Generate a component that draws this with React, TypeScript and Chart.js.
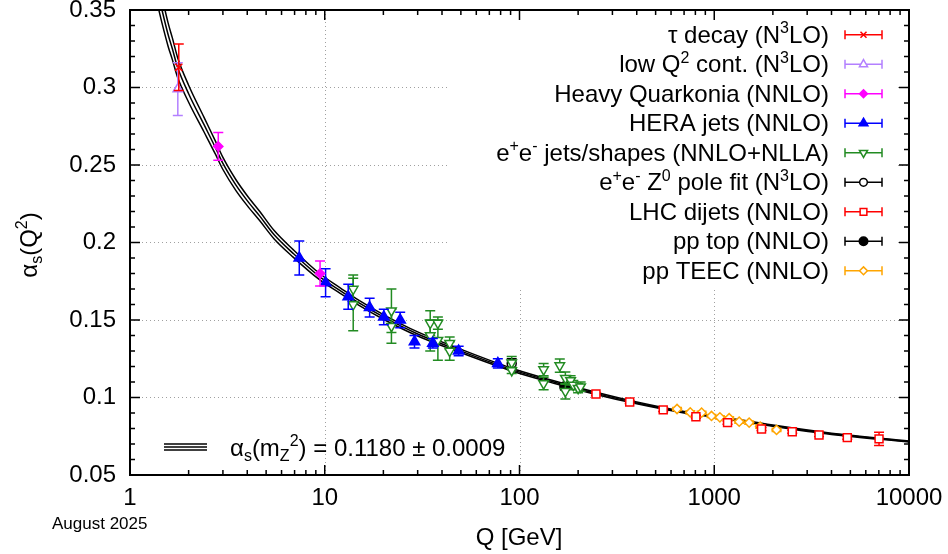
import React, { useEffect, useRef } from 'react';
import { Chart, registerables } from 'chart.js';

Chart.register(...registerables);

const FONT = '"Liberation Sans", Arial, Helvetica, sans-serif';

// ---- running coupling band ----
const curveQ = [1.40, 1.46, 1.57, 1.65, 1.755, 2.0, 2.4, 2.75, 3.0, 3.5, 4.0, 4.64, 5.5, 6.88, 9.4, 12, 15, 20, 30, 50, 91.2, 150, 250, 400, 700, 1000, 2000, 4000, 10000];
const curveAlpha = [0.360, 0.350, 0.334, 0.325, 0.313, 0.296, 0.276, 0.261, 0.251, 0.237, 0.227, 0.217, 0.205, 0.193, 0.178, 0.169, 0.161, 0.152, 0.141, 0.130, 0.118, 0.110, 0.1025, 0.0965, 0.0905, 0.0878, 0.0818, 0.0766, 0.0716];
const curveHalfWidth = [0.0090, 0.0085, 0.0075, 0.0070, 0.0064, 0.0055, 0.0047, 0.0042, 0.0039, 0.0035, 0.0032, 0.0030, 0.0027, 0.0024, 0.0020, 0.0018, 0.0016, 0.0015, 0.0013, 0.0011, 0.0009, 0.0008, 0.0007, 0.0006, 0.0005, 0.0005, 0.0004, 0.0004, 0.0003];

// ---- measurements ----
const tauQ = [1.78];
const tauAlpha = [0.313];
const tauErr = [0.015];

const lowQ2Q = [1.76];
const lowQ2Alpha = [0.299];
const lowQ2Err = [0.017];

const quarkQ = [2.84, 9.46];
const quarkAlpha = [0.262, 0.180];
const quarkErr = [0.009, 0.008];

const heraQ = [7.4, 10.1, 13.2, 17.0, 20.1, 24.4, 28.9, 35.9, 48.7, 77.4];
const heraAlpha = [0.190, 0.174, 0.165, 0.158, 0.152, 0.150, 0.136, 0.135, 0.130, 0.122];
const heraErr = [0.011, 0.009, 0.008, 0.006, 0.005, 0.005, 0.004, 0.003, 0.003, 0.003];

const eeQ = [14.0, 14.0, 22.0, 22.0, 34.8, 34.8, 38.1, 38.1, 43.8, 43.8, 91.2, 91.2, 133, 133, 161, 172, 172, 183, 189, 200, 206];
const eeAlpha = [0.170, 0.160, 0.156, 0.146, 0.148, 0.140, 0.148, 0.137, 0.135, 0.130, 0.1225, 0.1175, 0.118, 0.109, 0.1206, 0.1125, 0.104, 0.111, 0.108, 0.106, 0.107];
const eeErr = [0.009, 0.017, 0.014, 0.011, 0.008, 0.010, 0.004, 0.013, 0.004, 0.006, 0.004, 0.002, 0.004, 0.004, 0.0043, 0.004, 0.005, 0.003, 0.003, 0.003, 0.003];

const zpoleQ = [91.19];
const zpoleAlpha = [0.122];
const zpoleErr = [0.003];

const lhcQ = [247, 368, 547, 805, 1170, 1749, 2515, 3451, 4821, 7017];
const lhcAlpha = [0.1023, 0.0971, 0.0920, 0.0876, 0.0838, 0.0797, 0.0779, 0.0758, 0.0741, 0.0733];
const lhcErr = [0.001, 0.001, 0.001, 0.001, 0.001, 0.001, 0.001, 0.001, 0.001, 0.0043];

const topQ = [171];
const topAlpha = [0.107];
const topErr = [0.002];

const teecQ = [644, 753, 861, 968, 1069, 1193, 1343, 1511, 1721, 2089];
const teecAlpha = [0.0926, 0.0904, 0.0902, 0.0881, 0.0872, 0.0866, 0.0844, 0.0838, 0.0812, 0.0791];
const teecErr = [0.001, 0.001, 0.001, 0.001, 0.001, 0.001, 0.001, 0.001, 0.001, 0.001];

// ---- axes ----
const xTickValues = [1, 10, 100, 1000, 10000];
const xTickLabels = ['1', '10', '100', '1000', '10000'];
const yTickValues = [0.05, 0.1, 0.15, 0.2, 0.25, 0.3, 0.35];
const yTickLabels = ['0.05', '0.1', '0.15', '0.2', '0.25', '0.3', '0.35'];
const xGridValues = [10, 100, 1000];
const yGridValues = [0.1, 0.15, 0.2, 0.25, 0.3];

type Seg = [string, number];

const legendTexts: Seg[][] = [
  [['τ decay (N', 0], ['3', 1], ['LO)', 0]],
  [['low Q', 0], ['2', 1], [' cont. (N', 0], ['3', 1], ['LO)', 0]],
  [['Heavy Quarkonia (NNLO)', 0]],
  [['HERA jets (NNLO)', 0]],
  [['e', 0], ['+', 1], ['e', 0], ['-', 1], [' jets/shapes (NNLO+NLLA)', 0]],
  [['e', 0], ['+', 1], ['e', 0], ['-', 1], [' Z', 0], ['0', 1], [' pole fit (N', 0], ['3', 1], ['LO)', 0]],
  [['LHC dijets (NNLO)', 0]],
  [['pp top (NNLO)', 0]],
  [['pp TEEC (NNLO)', 0]],
];
const bandText: Seg[] = [['α', 0], ['s', -1], ['(m', 0], ['Z', -1], ['2', 1], [') = 0.1180 ± 0.0009', 0]];
const yTitle: Seg[] = [['α', 0], ['s', -1], ['(Q', 0], ['2', 1], [')', 0]];
const xTitle = 'Q [GeV]';
const dateText = 'August 2025';

interface SeriesDef { q: number[]; a: number[]; e: number[]; color: string; style: string; r: number; rot: number; filled: boolean; }
const series: SeriesDef[] = [
  { q: tauQ, a: tauAlpha, e: tauErr, color: '#ff0000', style: 'crossRot', r: 5, rot: 0, filled: false },
  { q: lowQ2Q, a: lowQ2Alpha, e: lowQ2Err, color: '#b380ff', style: 'triangle', r: 5.5, rot: 0, filled: false },
  { q: quarkQ, a: quarkAlpha, e: quarkErr, color: '#ff00ff', style: 'rectRot', r: 4.6, rot: 0, filled: true },
  { q: heraQ, a: heraAlpha, e: heraErr, color: '#0000ff', style: 'triangle', r: 6, rot: 0, filled: true },
  { q: eeQ, a: eeAlpha, e: eeErr, color: '#228b22', style: 'triangle', r: 5.5, rot: 180, filled: false },
  { q: zpoleQ, a: zpoleAlpha, e: zpoleErr, color: '#000000', style: 'circle', r: 4.5, rot: 0, filled: false },
  { q: lhcQ, a: lhcAlpha, e: lhcErr, color: '#ff0000', style: 'rect', r: 5.6, rot: 0, filled: false },
  { q: topQ, a: topAlpha, e: topErr, color: '#000000', style: 'circle', r: 5, rot: 0, filled: true },
  { q: teecQ, a: teecAlpha, e: teecErr, color: '#ffa500', style: 'rectRot', r: 4.6, rot: 0, filled: false },
];

function setFont(ctx: CanvasRenderingContext2D, size: number) {
  ctx.font = `${size}px ${FONT}`;
}

function richWidth(ctx: CanvasRenderingContext2D, segs: Seg[], size: number) {
  let w = 0;
  for (const [t, m] of segs) {
    setFont(ctx, m ? Math.round(size * 0.68) : size);
    w += ctx.measureText(t).width;
  }
  return w;
}

function drawRich(ctx: CanvasRenderingContext2D, segs: Seg[], x: number, baseline: number, align: string, size: number) {
  const w = richWidth(ctx, segs, size);
  let cx = align === 'right' ? x - w : align === 'center' ? x - w / 2 : x;
  ctx.textAlign = 'left';
  ctx.textBaseline = 'alphabetic';
  for (const [t, m] of segs) {
    setFont(ctx, m ? Math.round(size * 0.68) : size);
    const dy = m === 1 ? -size * 0.4 : m === -1 ? size * 0.22 : 0;
    ctx.fillText(t, cx, baseline + dy);
    cx += ctx.measureText(t).width;
  }
}

function drawMarker(ctx: CanvasRenderingContext2D, s: SeriesDef, x: number, y: number) {
  const r = s.r;
  ctx.beginPath();
  if (s.style === 'crossRot') {
    const o = r * Math.SQRT1_2;
    ctx.moveTo(x - o, y - o); ctx.lineTo(x + o, y + o);
    ctx.moveTo(x + o, y - o); ctx.lineTo(x - o, y + o);
    ctx.stroke();
    return;
  }
  if (s.style === 'triangle') {
    let a = (s.rot * Math.PI) / 180;
    ctx.moveTo(x + Math.sin(a) * r, y - Math.cos(a) * r);
    a += (2 * Math.PI) / 3;
    ctx.lineTo(x + Math.sin(a) * r, y - Math.cos(a) * r);
    a += (2 * Math.PI) / 3;
    ctx.lineTo(x + Math.sin(a) * r, y - Math.cos(a) * r);
    ctx.closePath();
  } else if (s.style === 'rectRot') {
    ctx.moveTo(x, y - r); ctx.lineTo(x + r, y); ctx.lineTo(x, y + r); ctx.lineTo(x - r, y); ctx.closePath();
  } else if (s.style === 'rect') {
    const h = r * Math.SQRT1_2;
    ctx.rect(x - h, y - h, 2 * h, 2 * h);
  } else {
    ctx.arc(x, y, r, 0, Math.PI * 2);
  }
  ctx.fillStyle = s.filled ? s.color : '#ffffff';
  ctx.fill();
  ctx.stroke();
}

const LEGEND_BOX = { left: 448, right: 897, top: 11, bottom: 287 };
const LEGEND_TEXT_RIGHT = 829;
const LEGEND_ROW0 = 34.8;
const LEGEND_STEP = 29.5;
const SAMPLE_L = 845;
const SAMPLE_R = 882;

const decor = {
  id: 'decor',
  beforeDatasetsDraw(chart: any) {
    const { ctx, chartArea: ca, scales } = chart;
    const xs = scales.x, ys = scales.y;
    ctx.save();
    ctx.strokeStyle = '#a0a0a0';
    ctx.lineWidth = 1;
    ctx.setLineDash([1, 3]);
    for (const v of xGridValues) {
      const px = Math.round(xs.getPixelForValue(v)) + 0.5;
      ctx.beginPath(); ctx.moveTo(px, ca.top); ctx.lineTo(px, ca.bottom); ctx.stroke();
    }
    for (const v of yGridValues) {
      const py = Math.round(ys.getPixelForValue(v)) + 0.5;
      ctx.beginPath(); ctx.moveTo(ca.left, py); ctx.lineTo(ca.right, py); ctx.stroke();
    }
    ctx.setLineDash([]);
    ctx.fillStyle = '#ffffff';
    ctx.fillRect(LEGEND_BOX.left, LEGEND_BOX.top, LEGEND_BOX.right - LEGEND_BOX.left, LEGEND_BOX.bottom - LEGEND_BOX.top);
    ctx.restore();
  },
  beforeDatasetDraw(chart: any, args: any) {
    const ds = chart.data.datasets[args.index];
    if (!ds.errs) return;
    const { ctx, chartArea: ca, scales } = chart;
    const ys = scales.y;
    ctx.save();
    ctx.beginPath();
    ctx.rect(ca.left, ca.top, ca.right - ca.left, ca.bottom - ca.top);
    ctx.clip();
    ctx.strokeStyle = ds.borderColor;
    ctx.lineWidth = 1.5;
    const cap = 5;
    args.meta.data.forEach((pt: any, i: number) => {
      const v = ds.data[i].y;
      const e = ds.errs[i];
      const x = pt.x;
      const y1 = ys.getPixelForValue(v + e);
      const y2 = ys.getPixelForValue(v - e);
      ctx.beginPath();
      ctx.moveTo(x, y1); ctx.lineTo(x, y2);
      ctx.moveTo(x - cap, y1); ctx.lineTo(x + cap, y1);
      ctx.moveTo(x - cap, y2); ctx.lineTo(x + cap, y2);
      ctx.stroke();
    });
    ctx.restore();
  },
  afterDatasetsDraw(chart: any) {
    const { ctx, chartArea: ca, scales } = chart;
    const xs = scales.x, ys = scales.y;
    ctx.save();
    ctx.strokeStyle = '#000';
    ctx.lineWidth = 1.5;
    // x ticks (log minor)
    for (let d = 0; d < 4; d++) {
      for (let m = 1; m <= 9; m++) {
        const v = m * Math.pow(10, d);
        const px = xs.getPixelForValue(v);
        const len = m === 1 ? 10 : 5;
        ctx.beginPath();
        ctx.moveTo(px, ca.bottom); ctx.lineTo(px, ca.bottom - len);
        ctx.moveTo(px, ca.top); ctx.lineTo(px, ca.top + len);
        ctx.stroke();
      }
    }
    // y ticks every 0.01
    for (let k = 5; k <= 35; k++) {
      const v = k / 100;
      const py = ys.getPixelForValue(v);
      const len = k % 5 === 0 ? 10 : 5;
      ctx.beginPath();
      ctx.moveTo(ca.left, py); ctx.lineTo(ca.left + len, py);
      ctx.moveTo(ca.right, py); ctx.lineTo(ca.right - len, py);
      ctx.stroke();
    }
    // frame
    ctx.lineWidth = 2;
    ctx.strokeRect(ca.left, ca.top, ca.right - ca.left, ca.bottom - ca.top);

    // legend
    ctx.fillStyle = '#000';
    series.forEach((s, i) => {
      const yc = LEGEND_ROW0 + LEGEND_STEP * i;
      ctx.fillStyle = '#000';
      drawRich(ctx, legendTexts[i], LEGEND_TEXT_RIGHT, yc + 8, 'right', 24);
      ctx.strokeStyle = s.color;
      ctx.lineWidth = 1.5;
      ctx.beginPath();
      ctx.moveTo(SAMPLE_L, yc); ctx.lineTo(SAMPLE_R, yc);
      ctx.moveTo(SAMPLE_L, yc - 4.5); ctx.lineTo(SAMPLE_L, yc + 4.5);
      ctx.moveTo(SAMPLE_R, yc - 4.5); ctx.lineTo(SAMPLE_R, yc + 4.5);
      ctx.stroke();
      drawMarker(ctx, { ...s, r: s.r * 0.85 }, (SAMPLE_L + SAMPLE_R) / 2, yc);
    });

    // band key
    ctx.strokeStyle = '#000';
    ctx.lineWidth = 1.5;
    const by = 447;
    for (const off of [-3, 0, 3]) {
      ctx.beginPath(); ctx.moveTo(164, by + off); ctx.lineTo(207, by + off); ctx.stroke();
    }
    ctx.fillStyle = '#000';
    drawRich(ctx, bandText, 230, by + 8.5, 'left', 24);

    // axis titles
    drawRich(ctx, [[xTitle, 0]], 519, 545, 'center', 24);
    ctx.save();
    ctx.translate(28, 245);
    ctx.rotate(-Math.PI / 2);
    drawRich(ctx, yTitle, 0, 8.5, 'center', 24);
    ctx.restore();
    setFont(ctx, 17);
    ctx.textAlign = 'left';
    ctx.textBaseline = 'alphabetic';
    ctx.fillText(dateText, 52, 529);
    ctx.restore();
  },
};

function buildConfig(): any {
  const curveDatasets = [-1, 0, 1].map((sgn) => ({
    type: 'line',
    data: curveQ.map((q, i) => ({ x: q, y: curveAlpha[i] + sgn * curveHalfWidth[i] })),
    borderColor: '#000000',
    borderWidth: 1.5,
    pointRadius: 0,
    fill: false,
    cubicInterpolationMode: 'monotone',
    order: 10,
  }));
  const pointDatasets = series.map((s) => ({
    type: 'scatter',
    data: s.q.map((q, i) => ({ x: q, y: s.a[i] })),
    errs: s.e,
    borderColor: s.color,
    backgroundColor: s.filled ? s.color : '#ffffff',
    pointStyle: s.style,
    pointRadius: s.r,
    pointRotation: s.rot,
    pointBorderWidth: 1.5,
    showLine: false,
    order: 1,
  }));
  return {
    type: 'scatter',
    data: { datasets: [...curveDatasets, ...pointDatasets] },
    options: {
      animation: false,
      responsive: false,
      events: [],
      layout: { padding: { left: 0, right: 39, top: 10, bottom: 0 } },
      plugins: { legend: { display: false }, tooltip: { enabled: false } },
      scales: {
        x: {
          type: 'logarithmic',
          min: 1,
          max: 10000,
          afterBuildTicks: (s: any) => { s.ticks = xTickValues.map((v) => ({ value: v })); },
          afterFit: (s: any) => { s.height = 79; s.paddingLeft = 0; s.paddingRight = 0; },
          ticks: {
            callback: (_v: any, i: number) => xTickLabels[i],
            font: { family: FONT, size: 24 },
            color: '#000',
            padding: 9,
            maxRotation: 0,
            autoSkip: false,
          },
          grid: { display: false, drawTicks: false },
          border: { display: false },
        },
        y: {
          type: 'linear',
          min: 0.05,
          max: 0.35,
          afterBuildTicks: (s: any) => { s.ticks = yTickValues.map((v) => ({ value: v })); },
          afterFit: (s: any) => { s.width = 130; s.paddingTop = 0; s.paddingBottom = 0; },
          ticks: {
            callback: (_v: any, i: number) => yTickLabels[i],
            font: { family: FONT, size: 24 },
            color: '#000',
            padding: 14,
            autoSkip: false,
          },
          grid: { display: false, drawTicks: false },
          border: { display: false },
        },
      },
    },
    plugins: [decor],
  };
}

export default function App() {
  const ref = useRef<HTMLCanvasElement>(null);
  useEffect(() => {
    const canvas = ref.current;
    if (!canvas) return;
    const chart = new Chart(canvas, buildConfig());
    return () => chart.destroy();
  }, []);
  return (
    <div style={{ position: 'fixed', left: 0, top: 0, width: 948, height: 554, background: '#ffffff' }}>
      <canvas ref={ref} width={948} height={554} style={{ display: 'block', width: 948, height: 554 }} />
    </div>
  );
}
